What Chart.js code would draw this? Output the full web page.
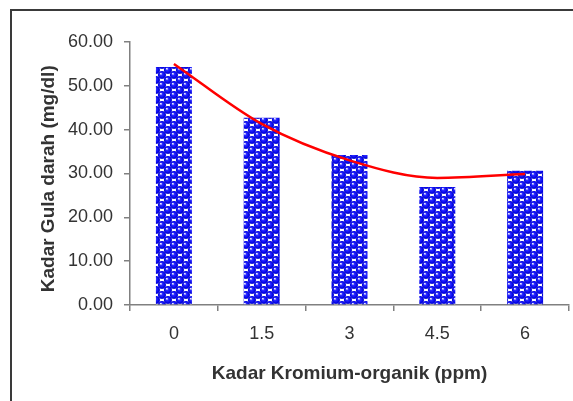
<!DOCTYPE html>
<html>
<head>
<meta charset="utf-8">
<script src="https://cdn.jsdelivr.net/npm/chart.js@4/dist/chart.umd.min.js"></script>
<style>
    body { margin: 0; background: #fff; }
    #wrap { position: relative; width: 573px; height: 401px; overflow: hidden; }
    #frame { position: absolute; left: 10px; top: 9px; width: 620px; height: 460px; border: 2px solid #3a3a3a; box-sizing: border-box; }
    canvas { position: absolute; left: 0; top: 0; }
</style>
</head>
<body>
<div id="wrap">
    <div id="frame"></div>
    <canvas id="myChart" width="573" height="401"></canvas>
</div>
<script>
// Data
const categories = ['0', '1.5', '3', '4.5', '6'];
const gulaDarah = [54.3, 42.7, 34.2, 26.9, 30.6];
const trendLine = [55.0, 41.3, 33.0, 29.0, 29.9];
const yTicks = [0, 10, 20, 30, 40, 50, 60];

// Pola bola biru untuk batang
function makePattern() {
    const c = document.createElement('canvas');
    c.width = 12;
    c.height = 10;
    const g = c.getContext('2d');
    g.fillStyle = '#ffffff';
    g.fillRect(0, 0, 12, 10);
    const centers = [[6, 5], [0, 0], [12, 0], [0, 10], [12, 10]];
    centers.forEach(p => {
        const grad = g.createRadialGradient(p[0] - 1.2, p[1] - 1.4, 0.3, p[0], p[1], 4.1);
        grad.addColorStop(0, '#e8e8ff');
        grad.addColorStop(0.3, '#2a2aff');
        grad.addColorStop(0.8, '#0000e6');
        grad.addColorStop(1, '#3535c8');
        g.fillStyle = grad;
        g.beginPath();
        g.arc(p[0], p[1], 4.1, 0, Math.PI * 2);
        g.fill();
    });
    return g.createPattern(c, 'repeat');
}

const ctx = document.getElementById('myChart').getContext('2d');
const myChart = new Chart(ctx, {
    type: 'bar',
    data: {
        labels: categories,
        datasets: [{
            type: 'line',
            data: trendLine,
            borderColor: '#ff0000',
            borderWidth: 2.5,
            pointRadius: 0,
            cubicInterpolationMode: 'monotone',
            fill: false,
            order: 0
        }, {
            data: gulaDarah,
            backgroundColor: makePattern(),
            borderWidth: 0,
            barPercentage: 0.41,
            categoryPercentage: 1,
            order: 1
        }]
    },
    options: {
        responsive: false,
        animation: false,
        layout: { padding: { left: 30, top: 42, right: 4, bottom: 10 } },
        plugins: {
            legend: { display: false },
            tooltip: { enabled: false }
        },
        scales: {
            x: {
                grid: { drawOnChartArea: false, offset: true, color: '#808080', lineWidth: 1.5, tickLength: 6 },
                border: { color: '#808080', width: 1.5 },
                ticks: { color: '#333', padding: 12, font: { family: 'Liberation Sans', size: 18 } },
                title: {
                    display: true,
                    text: 'Kadar Kromium-organik (ppm)',
                    color: '#333',
                    padding: { top: 0, bottom: 6 },
                    font: { family: 'Liberation Sans', size: 19, weight: 'bold' }
                },
                afterFit: scale => { scale.height = 86; }
            },
            y: {
                min: 0,
                max: 60,
                afterBuildTicks: scale => { scale.ticks = yTicks.map(v => ({ value: v })); },
                grid: { drawOnChartArea: false, color: '#808080', lineWidth: 1.5, tickLength: 6 },
                border: { color: '#808080', width: 1.5 },
                ticks: {
                    color: '#333',
                    padding: 11,
                    font: { family: 'Liberation Sans', size: 18 },
                    callback: v => v.toFixed(2)
                },
                title: {
                    display: true,
                    text: 'Kadar Gula darah (mg/dl)  ',
                    color: '#333',
                    padding: { top: 7, bottom: 0 },
                    font: { family: 'Liberation Sans', size: 19, weight: 'bold' }
                },
                afterFit: scale => { scale.width = 100; }
            }
        }
    }
});
</script>
</body>
</html>
